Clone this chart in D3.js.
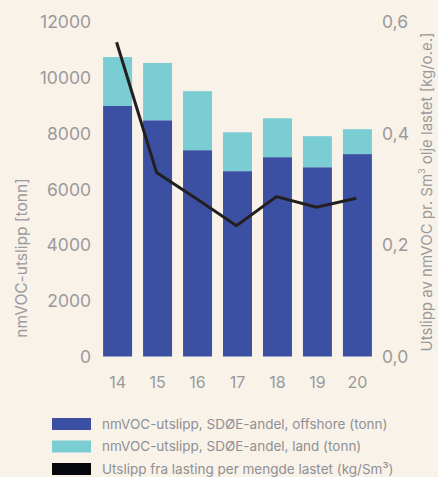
<!DOCTYPE html>
<html><head><meta charset="utf-8">
<script src="https://cdn.jsdelivr.net/npm/d3@7"></script>
<style>
html,body{margin:0;padding:0;background:#f9f2e9;}
svg{display:block;}
text{font-family:Inter,"Noto Sans",sans-serif;}
</style></head>
<body>
<script>
const years = ["14","15","16","17","18","19","20"];
const offshore = [8960, 8450, 7380, 6630, 7130, 6770, 7240];
const land = [1750, 2050, 2110, 1390, 1390, 1110, 890];
const perLoaded = [0.562, 0.329, 0.282, 0.234, 0.286, 0.267, 0.283];
const leftTicks = [0, 2000, 4000, 6000, 8000, 10000, 12000];
const rightTicks = [0, 0.2, 0.4, 0.6];
const legendLabels = ["nmVOC-utslipp, SDØE-andel, offshore (tonn)", "nmVOC-utslipp, SDØE-andel, land (tonn)", "Utslipp fra lasting per mengde lastet (kg/Sm³)"];

const W = 438, H = 477;
const colOff = "#3c50a3", colLand = "#79cdd3", colLine = "#231f20", txt = "#999a9c";
const svg = d3.select("body").append("svg").attr("width", W).attr("height", H);
svg.append("rect").attr("width", W).attr("height", H).attr("fill", "#f9f2e9");

const x = d3.scaleBand().domain(years).range([97.5, 377.5]).paddingInner(0.275).paddingOuter(0.14);
const y = d3.scaleLinear().domain([0, 12000]).range([356.5, 21]);
const y2 = d3.scaleLinear().domain([0, 0.6]).range([356.5, 21]);

// bars
const g = svg.append("g");
years.forEach((yr, i) => {
  g.append("rect").attr("x", x(yr)).attr("width", x.bandwidth())
    .attr("y", y(offshore[i])).attr("height", y(0) - y(offshore[i])).attr("fill", colOff);
  g.append("rect").attr("x", x(yr)).attr("width", x.bandwidth())
    .attr("y", y(offshore[i] + land[i])).attr("height", y(offshore[i]) - y(offshore[i] + land[i])).attr("fill", colLand);
});

// line
const line = d3.line().x((d, i) => x(years[i]) + x.bandwidth() / 2 - 1).y(d => y2(d));
svg.append("path").datum(perLoaded).attr("d", line).attr("fill", "none")
  .attr("stroke", colLine).attr("stroke-width", 3).attr("stroke-linejoin", "miter");

// left axis
const la = svg.append("g").attr("transform", "translate(91,0)")
  .call(d3.axisLeft(y).tickValues(leftTicks).tickSize(0).tickPadding(0).tickFormat(d3.format("d")));
la.select(".domain").remove();
la.selectAll("text").attr("fill", txt).attr("font-size", 17.5).attr("dy", "0.36em");

// right axis
const ra = svg.append("g").attr("transform", "translate(382,0)")
  .call(d3.axisRight(y2).tickValues(rightTicks).tickSize(0).tickPadding(0).tickFormat(d => d3.format(".1f")(d).replace(".", ",")));
ra.select(".domain").remove();
ra.selectAll("text").attr("fill", txt).attr("font-size", 17.5).attr("dy", "0.36em");

// x axis
const xa = svg.append("g").attr("transform", "translate(0,377)")
  .call(d3.axisBottom(x).tickSize(0).tickPadding(0));
xa.select(".domain").remove();
xa.selectAll("text").attr("fill", txt).attr("font-size", 16).attr("dy", "0.71em");

// axis titles
svg.append("text").attr("transform", "translate(27,258) rotate(-90)")
  .attr("text-anchor", "middle").attr("fill", txt).attr("font-size", 15.5)
  .text("nmVOC-utslipp [tonn]");
const rt = svg.append("text").attr("transform", "translate(432,192) rotate(-90)")
  .attr("text-anchor", "middle").attr("fill", txt).attr("font-size", 15);
rt.append("tspan").text("Utslipp av nmVOC pr. Sm");
rt.append("tspan").attr("font-size", 9).attr("dy", -7).text("3");
rt.append("tspan").attr("dy", 7).text("  olje lastet [kg/o.e.]");

// legend
const lg = svg.append("g");
const cols = [colOff, colLand, "#05070c"];
legendLabels.forEach((l, i) => {
  const yy = 418 + i * 22.5;
  lg.append("rect").attr("x", 52).attr("y", yy).attr("width", 39).attr("height", 12).attr("fill", cols[i]);
  lg.append("text").attr("x", 102).attr("y", yy + 6).attr("dy", "0.36em")
    .attr("fill", "#8f9093").attr("font-size", 13.5).text(l);
});
</script>
</body></html>
